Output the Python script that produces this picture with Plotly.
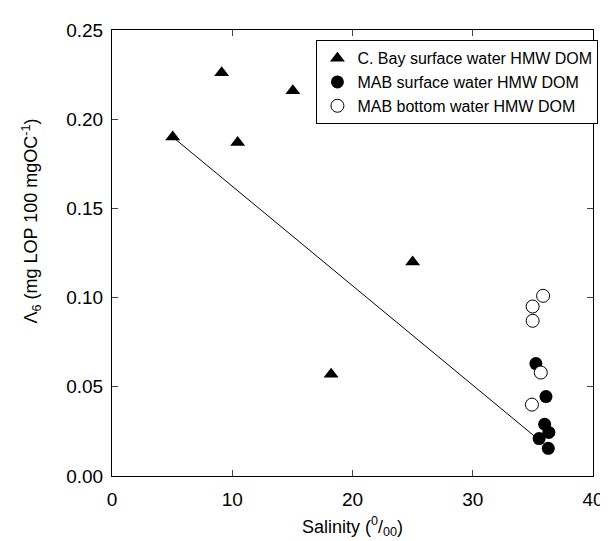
import plotly.graph_objects as go

# C. Bay surface water HMW DOM
cbay_sal = [5.05, 9.12, 10.45, 15.04, 18.22, 25.0]
cbay_val = [0.190, 0.226, 0.187, 0.216, 0.057, 0.120]

# MAB surface water HMW DOM
mabs_sal = [35.25, 36.09, 35.98, 36.33, 35.52, 36.28]
mabs_val = [0.063, 0.0445, 0.029, 0.0244, 0.021, 0.0155]

# MAB bottom water HMW DOM
mabb_sal = [35.85, 34.98, 34.98, 35.66, 34.92]
mabb_val = [0.101, 0.095, 0.087, 0.058, 0.040]

# regression line endpoints
fit_sal = [5.05, 35.1]
fit_val = [0.190, 0.0225]

x_ticks = [0, 10, 20, 30, 40]
y_ticks = [0.00, 0.05, 0.10, 0.15, 0.20, 0.25]

FONT = "Liberation Sans, Arial, sans-serif"

fig = go.Figure()
fig.add_trace(go.Scatter(x=fit_sal, y=fit_val, mode="lines",
                         line=dict(color="black", width=1), showlegend=False))
fig.add_trace(go.Scatter(x=cbay_sal, y=cbay_val, mode="markers",
                         name="C. Bay surface water HMW DOM",
                         marker=dict(symbol="triangle-up", size=13, color="black")))
fig.add_trace(go.Scatter(x=mabs_sal, y=mabs_val, mode="markers",
                         name="MAB surface water HMW DOM",
                         marker=dict(symbol="circle", size=13, color="black")))
fig.add_trace(go.Scatter(x=mabb_sal, y=mabb_val, mode="markers",
                         name="MAB bottom water HMW DOM",
                         marker=dict(symbol="circle", size=13, color="white",
                                     line=dict(color="black", width=1))))

fig.update_layout(
    width=608, height=541,
    margin=dict(l=104, r=13, t=20, b=73),
    paper_bgcolor="white", plot_bgcolor="white",
    font=dict(family=FONT, size=19, color="black"),
    showlegend=True,
    legend=dict(x=0.425, y=0.977, xanchor="left", yanchor="top",
                bordercolor="black", borderwidth=1, bgcolor="white",
                font=dict(size=16), itemsizing="trace", tracegroupgap=0),
    annotations=[dict(
        text="Λ<sub>6</sub> (mg LOP 100 mgOC<sup>-1</sup>)",
        xref="paper", yref="paper", x=-0.167, y=0.572,
        textangle=-90, showarrow=False, font=dict(size=18),
        xanchor="center", yanchor="middle"),
        dict(
        text="Salinity (<sup>0</sup>/<sub>00</sub>)",
        xref="paper", yref="paper", x=0.5, y=-0.113,
        showarrow=False, font=dict(size=18),
        xanchor="center", yanchor="middle")],
)
fig.update_xaxes(range=[0, 40], tickvals=x_ticks, ticks="inside", ticklen=6,
                 showline=True, linecolor="black", linewidth=1, mirror="ticks",
                 showgrid=False, zeroline=False, ticklabelstandoff=6)
fig.update_yaxes(range=[0, 0.25], tickvals=y_ticks, tickformat=".2f",
                 ticks="inside", ticklen=6, ticklabelstandoff=4,
                 showline=True, linecolor="black", linewidth=1, mirror="ticks",
                 showgrid=False, zeroline=False)

fig.write_html("out.html")
